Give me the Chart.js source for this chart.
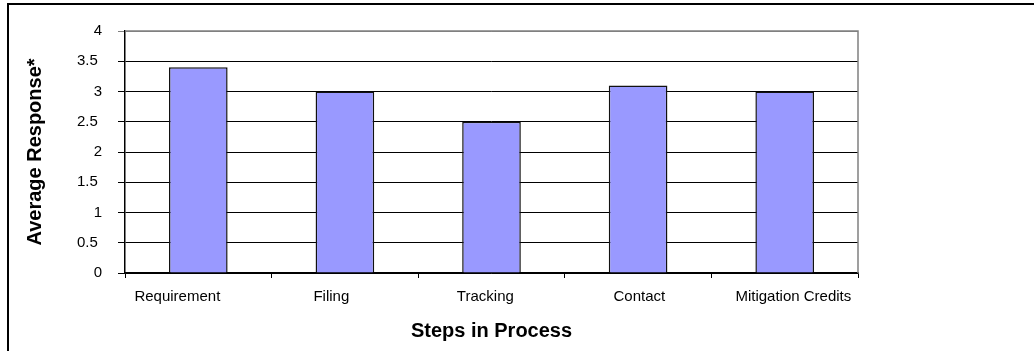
<!DOCTYPE html>
<html>
<head>
<meta charset="utf-8">
<title>Steps in Process</title>
<style>
  html, body { margin: 0; padding: 0; background: #fff; }
  .chart-wrap { position: relative; width: 1034px; height: 351px; overflow: hidden; }
  .chart-frame {
    position: absolute; left: 7px; top: 3px; width: 1040px; height: 400px;
    border: 2px solid #000; box-sizing: border-box; pointer-events: none;
  }
  #stepsChart { position: absolute; left: 0; top: 0; }
</style>
</head>
<body>
<div class="chart-wrap">
  <canvas id="stepsChart" width="1034" height="351"></canvas>
  <div class="chart-frame"></div>
</div>

<script src="https://cdn.jsdelivr.net/npm/chart.js"></script>
<script>
  const steps = ['Requirement', 'Filing', 'Tracking', 'Contact', 'Mitigation Credits'];
  const avgResponse = [3.4, 3.0, 2.5, 3.1, 3.0];
  const yTicks = [0, 0.5, 1, 1.5, 2, 2.5, 3, 3.5, 4];

  const FONT = 'Liberation Sans, Arial, sans-serif';
  const STEP_MIN = -0.34, STEP_MAX = 4.42;

  // gray line along the top and right of the plot area
  const plotBorder = {
    id: 'plotBorder',
    afterDatasetsDraw(chart) {
      const { ctx, chartArea: a } = chart;
      ctx.save();
      ctx.strokeStyle = '#808080';
      ctx.lineWidth = 1.5;
      ctx.beginPath();
      ctx.moveTo(a.left, a.top);
      ctx.lineTo(a.right, a.top);
      ctx.lineTo(a.right, a.bottom);
      ctx.stroke();
      ctx.restore();
    }
  };

  const ctx = document.getElementById('stepsChart').getContext('2d');
  new Chart(ctx, {
    type: 'bar',
    data: {
      labels: steps,
      datasets: [{
        data: avgResponse,
        backgroundColor: '#9999ff',
        borderColor: '#111',
        borderWidth: 1.5,
        barPercentage: 0.4,
        categoryPercentage: 1
      }]
    },
    options: {
      responsive: false,
      animation: false,
      layout: { padding: { left: 0, top: 31, right: 176, bottom: 0 } },
      plugins: { legend: { display: false }, tooltip: { enabled: false } },
      scales: {
        // category axis: bars and the tick marks between them
        x: {
          afterFit(scale) { scale.height = 5; },
          grid: { drawOnChartArea: false, tickLength: 5, color: '#000', lineWidth: 1 },
          border: { color: '#000', width: 1.5 },
          ticks: { display: false }
        },
        // step names, spread a little wider than the categories
        steps: {
          type: 'linear',
          position: 'bottom',
          bounds: 'data',
          offset: false,
          min: STEP_MIN, max: STEP_MAX,
          afterFit(scale) { scale.height = 73; },
          afterBuildTicks(scale) {
            scale.ticks = steps.map((s, i) => ({ value: i }));
            scale.min = STEP_MIN;
            scale.max = STEP_MAX;
          },
          grid: { display: false, drawTicks: false, offset: false },
          border: { display: false },
          ticks: {
            color: '#000', padding: 10, maxRotation: 0, autoSkip: false,
            callback: v => steps[v],
            font: { family: FONT, size: 15 }
          },
          title: {
            display: true, text: 'Steps in Process', color: '#000', padding: 8,
            font: { family: FONT, size: 20, weight: 'bold' }
          }
        },
        y: {
          min: 0, max: 4,
          afterFit(scale) { scale.width = 125; },
          afterBuildTicks(scale) { scale.ticks = yTicks.map(v => ({ value: v })); },
          grid: {
            tickLength: 7, lineWidth: 1,
            color: c => c.tick && c.tick.value === 4 ? '#808080' : '#000'
          },
          border: { color: '#000', width: 1.5 },
          ticks: {
            color: '#000', padding: 16,
            callback: v => Number.isInteger(v) ? String(v) : v + ' ',
            font: { family: FONT, size: 15 }
          },
          title: {
            display: true, text: 'Average Response*', color: '#000', padding: 23,
            font: { family: FONT, size: 20, weight: 'bold' }
          }
        }
      }
    },
    plugins: [plotBorder]
  });
</script>
</body>
</html>
